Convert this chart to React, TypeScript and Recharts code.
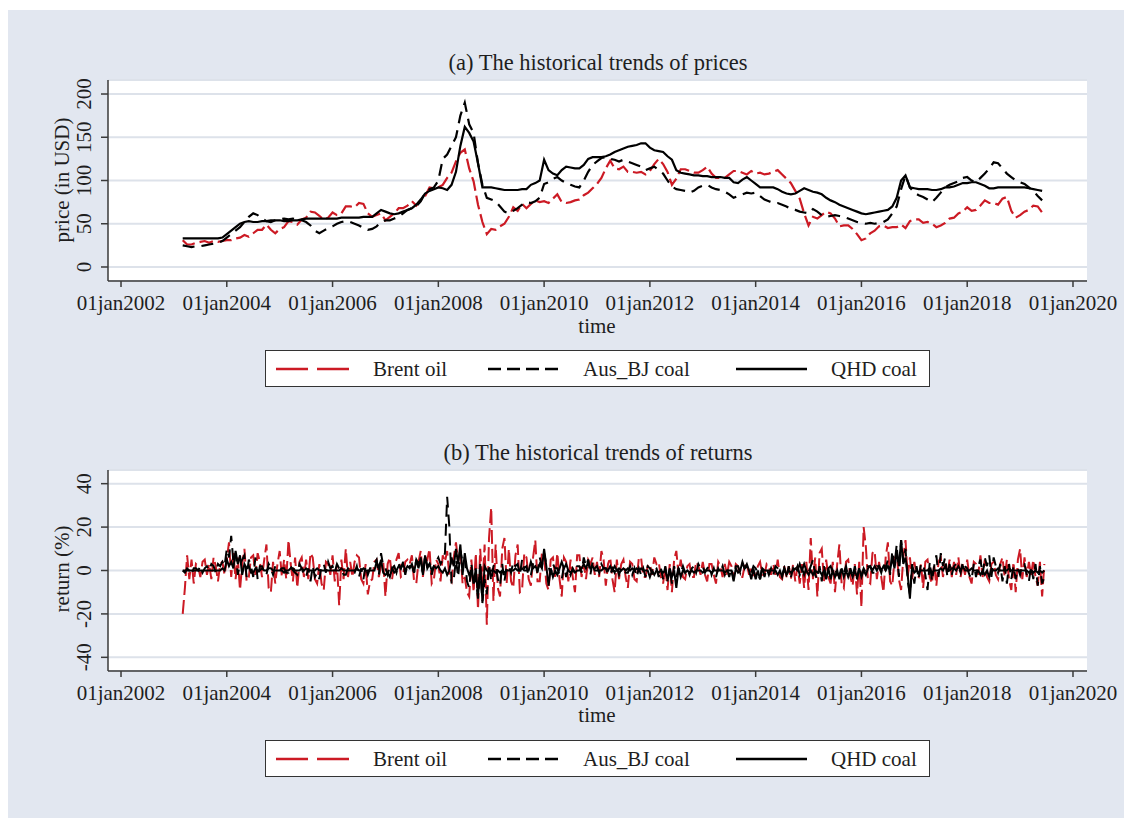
import React, { useEffect } from 'react';
import { LineChart, Line, XAxis, YAxis, CartesianGrid } from 'recharts';

// Price observations are monthly, March 2003 .. June 2019
// Return observations are semi-monthly over the same span
const START_YEAR = 2003;
const START_MONTH = 3;

const brentPrice = [
  31, 26, 26, 28, 29, 30, 28, 30, 29, 30,
  31, 31, 33, 34, 37, 35, 39, 43, 43, 49, 43, 39,
  44, 46, 53, 52, 49, 55, 57, 64, 63, 59, 55, 57,
  63, 60, 62, 70, 70, 69, 74, 73, 62, 58, 60, 62,
  54, 58, 62, 68, 68, 71, 76, 71, 77, 82, 92, 91,
  92, 95, 103, 109, 122, 132, 136, 114, 99, 72, 52, 38,
  44, 43, 47, 50, 58, 69, 65, 73, 68, 73, 77, 75,
  76, 74, 79, 84, 75, 74, 75, 77, 78, 83, 86, 91,
  96, 103, 114, 123, 114, 113, 116, 110, 110, 109, 110, 107,
  111, 119, 125, 119, 110, 95, 102, 113, 113, 111, 109, 109,
  112, 116, 108, 103, 103, 103, 107, 111, 111, 109, 107, 111,
  108, 109, 107, 108, 110, 112, 107, 102, 97, 88, 79, 62,
  48, 58, 56, 60, 64, 62, 56, 47, 48, 48, 44, 38,
  31, 33, 39, 42, 47, 48, 45, 46, 46, 49, 45, 53,
  55, 55, 51, 52, 50, 46, 48, 51, 56, 57, 62, 64,
  69, 65, 66, 71, 77, 74, 74, 72, 79, 81, 65, 57,
  60, 64, 66, 71, 70, 63,
];

const ausPrice = [
  25, 24, 23, 24, 24, 25, 26, 27, 28, 30,
  34, 38, 42, 46, 52, 58, 62, 60, 56, 53, 52, 54,
  55, 56, 55, 56, 55, 54, 52, 48, 42, 39, 42, 45,
  47, 50, 52, 53, 52, 50, 48, 45, 43, 44, 47, 52,
  54, 54, 56, 58, 62, 66, 68, 70, 76, 85, 90, 92,
  100, 125, 130, 140, 150, 175, 190, 165, 155, 120, 95, 80,
  78, 76, 70, 64, 62, 65, 68, 72, 75, 74, 76, 80,
  96, 98, 102, 104, 100, 97, 95, 93, 92, 100, 110, 118,
  122, 126, 127, 125, 124, 122, 124, 122, 120, 118, 116, 112,
  114, 116, 112, 108, 100, 93, 90, 89, 88, 86, 88, 92,
  94, 95, 92, 90, 89, 87, 84, 80, 82, 84, 86, 85,
  86, 82, 78, 76, 74, 74, 72, 70, 67, 66, 64, 63,
  62, 67, 64, 60, 58, 59, 60, 59, 58, 56, 54, 52,
  51, 50, 51, 50, 51, 52, 55, 62, 70, 90, 106, 92,
  86, 83, 81, 78, 75, 80, 86, 92, 95, 97, 99, 103,
  104, 100, 98, 103, 108, 114, 121, 120, 114, 108, 104, 100,
  98, 96, 92, 88, 82, 77,
];

const qhdPrice = [
  33, 33, 33, 33, 33, 33, 33, 33, 33, 34,
  38, 42, 46, 50, 52, 53, 52, 52, 53, 53, 54, 54,
  54, 53, 53, 54, 54, 55, 56, 56, 56, 56, 56, 56,
  56, 56, 57, 57, 57, 57, 57, 58, 58, 58, 62, 66,
  64, 62, 61, 62, 64, 66, 68, 72, 78, 85, 88, 90,
  92, 91, 89, 95, 110, 140, 162, 155, 145, 120, 92, 92,
  92, 91, 90, 89, 89, 89, 89, 90, 90, 95, 97, 100,
  124, 112, 108, 106, 112, 116, 115, 114, 114, 118, 125, 127,
  127, 127, 128, 130, 133, 135, 137, 139, 140, 141, 143, 143,
  138, 135, 134, 133, 128, 124, 112, 109, 108, 107, 106, 106,
  105, 105, 104, 104, 104, 103, 103, 98, 97, 101, 104, 100,
  96, 92, 92, 92, 92, 90, 87, 85, 84, 85, 88, 91,
  89, 87, 86, 84, 80, 77, 75, 72, 70, 68, 66, 64,
  62, 61, 62, 63, 64, 65, 66, 70, 80, 100, 106, 92,
  91, 90, 90, 90, 89, 89, 90, 92, 92, 93, 95, 97,
  97, 98, 98, 96, 94, 91, 91, 92, 92, 92, 92, 92,
  92, 92, 91, 90, 89, 88,
];

const brentRet = [
  -20, -8, 7, -4, 5, -6, 3, 2, -3, 4, 5, -2, 3, -4, 6, 2, -5, 3, 4, -2,
  5, 13, -3, 8, -4, 6, -9, 3, 10, -5, -3, 6, 7, -2, 8, 4, -3, 5, 12, -8, -10, 4, -6, 3,
  9, -3, 5, -4, 14, 3, -5, 6, -8, 4, 6, -3, 5, -4, 8, 6, -4, -6, 3, -6, -9, 4, 3, -2,
  7, -5, 3, -16, 5, -4, 10, -3, 4, -3, 4, 7, 6, -4, -6, 3, -11, -5, -4, 4, 5, -3, 2, 4,
  -12, 3, 6, -4, 3, 5, 8, -3, -2, 4, 5, 3, 7, -5, -6, 4, 9, -3, 6, 5, 10, -6, -4, 5,
  3, -5, 7, 4, 9, -3, -5, 6, 13, 4, 10, -6, -3, -10, -12, 5, -10, 8, -18, 10, -8, 12, -25, 15,
  29, -14, 12, -8, -12, 10, 15, -6, 10, -5, -8, 7, 12, -10, -9, 8, 6, -4, -7, 6, 14, -5, -5, 8,
  7, -6, -9, 5, 6, -3, 8, -4, -12, 6, 4, -5, 5, -3, -10, 7, 7, -3, 3, -4, 5, 3, 6, -2,
  4, -3, 9, 5, -7, 3, 6, -4, -10, 5, -4, 3, 5, -3, -8, 4, 3, -4, -5, 6, 6, -3, -3, 2,
  3, -2, 6, 3, 4, -3, -6, 2, -9, 3, -10, 5, 9, -2, 5, -3, -4, 2, 3, -3, -3, 4, 2, -2,
  4, -2, -5, 3, 3, -2, -6, 4, 2, -3, 3, -2, 4, 2, -4, 3, 2, -3, -3, 2, 3, -2, 2, -2,
  -3, 2, 4, -2, -2, 3, 2, -2, 3, -2, 5, -3, -4, 2, -3, 2, -4, 3, -5, 2, -6, 3, -8, 4,
  -9, 15, -4, 6, -12, 8, 10, -5, 5, -3, -6, 4, -10, 3, 12, -6, -8, 4, 5, -3, -7, 3, -11, 4,
  -17, 20, 11, -5, -6, 8, 9, -4, 4, -3, -10, 6, 13, -5, -7, 5, 8, -4, -9, 6, 14, -3, 6, -4,
  4, -2, -3, 3, -8, 4, 5, -3, -6, 3, -7, 4, 6, -3, 3, -2, 5, -3, 4, -2, 6, -3, 3, -2,
  5, -3, -6, 4, 3, -2, 7, -3, 5, -3, -5, 3, 4, -2, -4, 3, 6, -3, 5, -4, -9, 4, -10, 5,
  10, -4, 6, -3, 4, -2, 5, -3, -7, 4, -12, 3,
];

const ausRet = [
  0, -1, 1, 0, -2, 1, 1, 0, 2, -1, 1, 2, 0, 3, 2, -1, 3, 2, 4, 2,
  10, 6, 16, 4, 8, -2, 3, 5, 7, -3, 5, 2, -3, 6, -4, 2, 2, -1, -2, 3, 1, -2, 2, 1,
  0, 1, 1, -1, -1, 2, 0, -1, -2, 3, 1, -2, -3, 1, -5, 2, -3, -1, -4, 2, 3, -1, 4, 1,
  2, -1, 3, 1, 1, -2, -2, 1, 0, -1, -1, 2, -3, 1, -4, 2, -2, 1, 1, 3, 5, -2, 8, 2,
  1, -2, 2, 1, 2, -1, 3, 1, 4, -2, 3, 2, 2, -1, 5, 3, 6, -2, 7, 2, 3, -2, 2, 4,
  6, 3, 5, 8, 34, 20, -6, -4, 5, -3, 9, 4, 6, -5, -8, 3, -6, -3, -13, 2, -15, -4, -11, 3,
  -5, 2, 3, -4, -7, 3, -5, 2, 2, -1, 4, 2, 3, -2, 5, 1, 2, -3, -2, 3, 3, -1, 6, 2,
  8, 3, 2, -2, 3, 1, 1, -2, -4, 2, -3, 1, -2, 1, -1, 2, 2, -1, 6, 2, 5, -2, 4, 1,
  2, -1, 3, 1, 1, -2, -2, 1, -1, 2, -2, 1, 1, -1, -1, 2, -2, 1, -3, 1, -2, 1, -3, 2,
  1, -1, 2, 1, -3, 1, -4, 2, -5, 1, -6, 2, -3, 1, -1, 2, -1, 1, -2, 1, 2, -1, 3, 1,
  2, -1, 1, 2, -2, 1, -3, 1, -1, 2, -2, 1, -3, 1, -4, 2, 2, -1, 3, 1, 2, -1, -1, 2,
  1, -1, -4, 2, -3, 1, -2, 1, -2, 2, 1, -1, -2, 1, -3, 2, -3, 1, -1, 2, -2, 1, -2, 1,
  -1, 2, 5, -2, -4, 2, -5, 2, -3, 1, 2, -1, 1, -2, -2, 1, -1, 2, -3, 1, -3, 2, -4, 1,
  -2, 1, -1, 2, 2, -1, -1, 2, 2, -1, 3, 1, 5, -2, 9, 2, 12, -3, 14, 4, 10, -5, -11, 3,
  -6, 2, -4, 3, 3, -2, -9, 4, -5, 2, 7, -3, 8, 2, 6, -3, 3, -2, 2, 3, 2, -1, 4, 2,
  1, -2, -4, 3, -3, 2, 5, -2, 6, 2, 7, -3, 6, 2, -1, 3, -5, 2, -6, 3, -4, 2, -4, 1,
  -2, 3, 3, -2, -5, 2, -4, 3, -7, 2, -6, -3,
];

const qhdRet = [
  0, 0, 0, 0, 0, 0, 0, 0, 0, 0, 0, 0, 0, 0, 0, 0, 0, 0, 1, 0,
  5, 2, 4, 1, 9, 3, 7, -2, 3, 1, 2, -1, -1, 1, 0, 0, 1, 0, 0, 1, 1, 0, 0, 0,
  0, 0, -1, 0, 0, 1, 1, 0, 0, 0, 1, 0, 1, 0, 0, 0, 0, 1, 0, 0, 0, 0, 0, 0,
  0, 0, 0, 0, 1, 0, 0, 0, 0, 0, 0, 1, 0, 0, 1, 0, 0, 0, 0, 0, 4, 1, 5, -1,
  -2, -1, -3, 1, -1, 0, 2, 1, 3, 0, 2, 1, 3, -1, 5, 1, 6, -2, 7, 1, 3, 0, 2, 1,
  2, 0, -1, 1, -2, 0, 6, 2, 10, 3, 12, -2, 8, 1, -2, 0, -6, 1, -12, 3, -14, 2, 0, -1,
  0, 0, -1, 0, -1, 0, -1, 0, 0, 0, 0, 1, 0, 0, 1, 0, 0, 0, 4, 1, 2, 0, 3, 1,
  10, 2, -7, 1, -3, 0, -2, 1, 4, 1, 3, 0, -1, 0, -1, 0, 0, 1, 3, 1, 4, 1, 2, 0,
  0, 0, 0, 1, 1, 0, 2, 0, 2, 0, 1, 0, 1, 0, 1, 0, 1, 0, 1, 0, 1, 0, 0, 0,
  -3, 0, -2, 0, -1, 0, -1, 0, -4, 1, -3, 0, -8, 1, -3, 0, -1, 0, -1, 0, -1, 0, 0, 0,
  -1, 0, 0, 0, -1, 0, 0, 0, 0, 0, -1, 0, 0, 0, -5, 1, -1, 0, 4, 1, 3, 0, -4, 1,
  -4, 0, -4, 1, 0, 0, 0, 0, 0, 0, -2, 0, -3, 1, -2, 0, -1, 0, 1, 0, 3, 0, 3, 0,
  -2, 0, -2, 0, -1, 0, -2, 0, -4, 1, -4, 0, -3, 0, -4, 1, -3, 0, -3, 0, -3, 0, -3, 1,
  -3, 0, -2, 1, 2, 0, 2, 0, 2, 0, 2, 0, 2, 0, 6, 1, 9, 2, 14, 3, 6, -2, -13, 2,
  -1, 0, -1, 0, 0, 0, 0, 1, -1, 0, 0, 0, 1, 0, 2, 0, 0, 1, 1, 0, 2, 0, 2, 0,
  0, 0, 1, 0, 0, 0, -2, 0, -2, 0, -3, 1, 0, 0, 1, 0, 0, 0, 0, 1, 0, 0, 0, 0,
  0, 0, 0, 0, -1, 0, -1, 0, -1, 0, -1, 0,
];

const X_TICKS = [2002, 2004, 2006, 2008, 2010, 2012, 2014, 2016, 2018, 2020];
const PRICE_TICKS = [0, 50, 100, 150, 200];
const RETURN_TICKS = [-40, -20, 0, 20, 40];

const TITLE_A = '(a) The historical trends of prices';
const TITLE_B = '(b) The historical trends of returns';
const X_LABEL = 'time';
const Y_LABEL_A = 'price (in USD)';
const Y_LABEL_B = 'return (%)';
const SERIES_NAMES = ['Brent oil', 'Aus_BJ coal', 'QHD coal'];

const monthToT = (i: number) => START_YEAR + (START_MONTH - 1 + i) / 12;

const priceRows = brentPrice.map((v, i) => ({
  t: monthToT(i),
  brent: v,
  aus: ausPrice[i],
  qhd: qhdPrice[i],
}));

const returnRows = brentRet.map((v, i) => ({
  t: monthToT(i / 2),
  brent: v,
  aus: ausRet[i],
  qhd: qhdRet[i],
}));

const FONT = '"Liberation Serif", "Times New Roman", serif';
const RED = '#cc1a24';
const INK = '#1e1e1e';
const AXIS = '#3a3a3a';
const BG = '#e2e7f0';
const GRID = '#dde2ea';

const W = 1116;
const H = 390;

const XTick = (props: any) => {
  const { x, payload } = props;
  return (
    <text x={x} y={293} textAnchor="middle" dominantBaseline="central" fontFamily={FONT} fontSize={21} fill={INK}>
      {'01jan' + payload.value}
    </text>
  );
};

const YTick = (props: any) => {
  const { y, payload } = props;
  return (
    <text
      x={76}
      y={y}
      transform={`rotate(-90 76 ${y})`}
      textAnchor="middle"
      dominantBaseline="central"
      fontFamily={FONT}
      fontSize={21}
      fill={INK}
    >
      {payload.value}
    </text>
  );
};

const Legend = ({ top }: { top: number }) => (
  <div
    style={{
      position: 'absolute',
      left: 257,
      top,
      width: 665,
      height: 37,
      background: '#fff',
      border: '1.5px solid #333',
      boxSizing: 'border-box',
    }}
  >
    <svg width={665} height={37} style={{ position: 'absolute', left: 0, top: 0 }}>
      <line x1={10} x2={83} y1={18} y2={18} stroke={RED} strokeWidth={2.5} strokeDasharray="32 9" />
      <line x1={222} x2={292} y1={18} y2={18} stroke="#000" strokeWidth={2.5} strokeDasharray="13 6" />
      <line x1={470} x2={541} y1={18} y2={18} stroke="#000" strokeWidth={2.5} />
      <text x={107} y={18} dominantBaseline="central" fontFamily={FONT} fontSize={21} fill={INK}>{SERIES_NAMES[0]}</text>
      <text x={317} y={18} dominantBaseline="central" fontFamily={FONT} fontSize={21} fill={INK}>{SERIES_NAMES[1]}</text>
      <text x={565} y={18} dominantBaseline="central" fontFamily={FONT} fontSize={21} fill={INK}>{SERIES_NAMES[2]}</text>
    </svg>
  </div>
);

const Title = ({ text, x, y, size, rotate }: { text: string; x: number; y: number; size: number; rotate?: boolean }) => (
  <div
    style={{
      position: 'absolute',
      left: x,
      top: y,
      transform: `translate(-50%, -50%)${rotate ? ' rotate(-90deg)' : ''}`,
      fontFamily: FONT,
      fontSize: size,
      color: INK,
      whiteSpace: 'nowrap',
      lineHeight: 1,
    }}
  >
    {text}
  </div>
);

const Panel = ({ data, domain, ticks, strokeW }: { data: any[]; domain: [number, number]; ticks: number[]; strokeW: number }) => (
  <LineChart width={W} height={H} data={data} margin={{ top: 70, right: 37, left: 40, bottom: 79 }}>
    <CartesianGrid horizontal vertical={false} stroke={GRID} strokeWidth={2} fill="#ffffff" />
    <XAxis
      dataKey="t"
      type="number"
      domain={[2001.754, 2020.265]}
      allowDataOverflow
      ticks={X_TICKS}
      height={40}
      tick={<XTick />}
      tickSize={6}
      axisLine={{ stroke: AXIS, strokeWidth: 1.5 }}
      tickLine={{ stroke: AXIS, strokeWidth: 1.5 }}
      interval={0}
    />
    <YAxis
      type="number"
      domain={domain}
      allowDataOverflow
      ticks={ticks}
      width={60}
      tick={<YTick />}
      tickSize={7}
      axisLine={{ stroke: AXIS, strokeWidth: 1.5 }}
      tickLine={{ stroke: AXIS, strokeWidth: 1.5 }}
      interval={0}
    />
    <Line dataKey="brent" type="linear" stroke={RED} strokeWidth={strokeW} strokeDasharray="14 5" dot={false} isAnimationActive={false} />
    <Line dataKey="aus" type="linear" stroke="#000" strokeWidth={strokeW} strokeDasharray="12 7" dot={false} isAnimationActive={false} />
    <Line dataKey="qhd" type="linear" stroke="#000" strokeWidth={strokeW} dot={false} isAnimationActive={false} />
  </LineChart>
);

export default function App() {
  useEffect(() => {
    document.documentElement.style.overflow = 'hidden';
    document.body.style.overflow = 'hidden';
  }, []);
  return (
    <div style={{ position: 'fixed', left: 8, top: 10, right: 0, bottom: 0, minWidth: W, background: BG, overflow: 'hidden' }}>
      <div style={{ position: 'absolute', left: 0, top: 0 }}>
        <Panel data={priceRows} domain={[-16.2, 216.2]} ticks={PRICE_TICKS} strokeW={2.2} />
      </div>
      <div style={{ position: 'absolute', left: 0, top: 390 }}>
        <Panel data={returnRows} domain={[-46.3, 46.3]} ticks={RETURN_TICKS} strokeW={2} />
      </div>
      <Title text={TITLE_A} x={590} y={53} size={22.5} />
      <Title text={TITLE_B} x={590} y={443} size={22.5} />
      <Title text={X_LABEL} x={589} y={316} size={21} />
      <Title text={X_LABEL} x={589} y={705} size={21} />
      <Title text={Y_LABEL_A} x={54} y={170} size={21} rotate />
      <Title text={Y_LABEL_B} x={54} y={559} size={21} rotate />
      <Legend top={340} />
      <Legend top={730} />
    </div>
  );
}
